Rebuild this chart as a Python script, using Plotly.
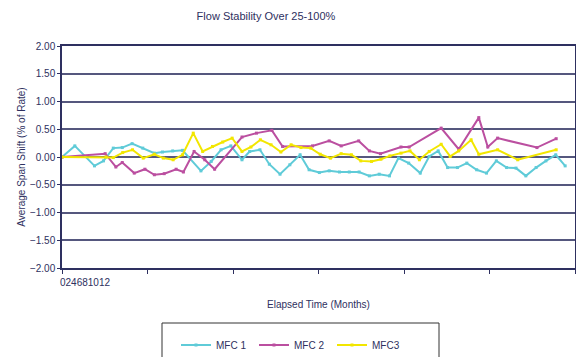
import plotly.graph_objects as go

# ---- data ----
mfc1_months = [0.00, 0.30, 0.76, 0.97, 1.20, 1.41, 1.64, 1.89, 2.16, 2.35, 2.59, 2.82,
               3.25, 3.49, 3.72, 3.95, 4.21, 4.39, 4.63, 4.85, 5.10, 5.33, 5.57, 5.78,
               6.02, 6.25, 6.49, 6.72, 6.95, 7.19, 7.42, 7.66, 7.87, 8.11, 8.38, 8.59,
               8.80, 9.02, 9.25, 9.47, 9.70, 9.93, 10.16, 10.40, 10.62, 10.85, 11.09,
               11.32, 11.55, 11.77]
mfc1_values = [0.00, 0.20, -0.16, -0.07, 0.16, 0.17, 0.24, 0.16, 0.07, 0.09, 0.11, 0.12,
               -0.25, -0.08, 0.13, 0.20, -0.05, 0.10, 0.13, -0.13, -0.31, -0.14, 0.04, -0.23,
               -0.28, -0.25, -0.27, -0.27, -0.27, -0.34, -0.31, -0.34, -0.02, -0.11, -0.29, 0.01,
               0.11, -0.19, -0.19, -0.11, -0.23, -0.29, -0.07, -0.19, -0.20, -0.34, -0.19,
               -0.07, 0.04, -0.16]

mfc2_months = [0.00, 1.01, 1.26, 1.41, 1.69, 1.94, 2.16, 2.39, 2.67, 2.84, 3.09, 3.34,
               3.57, 4.21, 4.55, 4.91, 5.16, 5.86, 6.25, 6.53, 6.94, 7.19, 7.45, 7.93,
               8.12, 8.87, 9.28, 9.75, 9.96, 10.19, 11.11, 11.56]
mfc2_values = [0.00, 0.06, -0.18, -0.10, -0.29, -0.22, -0.32, -0.30, -0.22, -0.27, 0.10, -0.05,
               -0.22, 0.36, 0.43, 0.48, 0.19, 0.20, 0.29, 0.20, 0.29, 0.11, 0.06, 0.18,
               0.18, 0.52, 0.14, 0.71, 0.18, 0.34, 0.17, 0.33]

mfc3_months = [0.00, 1.03, 1.20, 1.42, 1.65, 1.90, 2.16, 2.37, 2.60, 2.82, 3.07, 3.29,
               3.52, 3.76, 3.98, 4.21, 4.42, 4.64, 4.89, 5.12, 5.36, 5.59, 5.82, 6.04,
               6.28, 6.53, 6.77, 6.99, 7.24, 7.46, 7.67, 7.93, 8.14, 8.36, 8.59, 8.87,
               9.08, 9.28, 9.57, 9.75, 10.19, 10.66, 11.56]
mfc3_values = [0.00, 0.00, -0.01, 0.08, 0.13, -0.02, 0.05, -0.02, -0.05, 0.04, 0.43, 0.10,
               0.19, 0.27, 0.34, 0.10, 0.18, 0.31, 0.22, 0.09, 0.22, 0.17, 0.16, 0.05,
               -0.02, 0.06, 0.04, -0.07, -0.08, -0.04, 0.02, 0.07, 0.11, -0.05, 0.10, 0.23,
               0.01, 0.11, 0.31, 0.05, 0.13, -0.05, 0.13]

series_names = ["MFC 1", "MFC 2", "MFC3"]
x_tick_values = [0, 2, 4, 6, 8, 10, 12]
x_tick_labels = ["0", "2", "4", "6", "8", "10", "12"]
y_tick_values = [2.0, 1.5, 1.0, 0.5, 0.0, -0.5, -1.0, -1.5, -2.0]

# ---- styling ----
colors = ["#5fcbd8", "#bb4fa0", "#f2e600"]
text_color = "#2e3060"
grid_color = "#55577e"
font_family = "Liberation Sans, Arial, sans-serif"

fig = go.Figure()
for name, xs, ys, c in zip(series_names,
                           [mfc1_months, mfc2_months, mfc3_months],
                           [mfc1_values, mfc2_values, mfc3_values],
                           colors):
    fig.add_trace(go.Scatter(x=xs, y=ys, name=name, mode="lines+markers",
                             line=dict(color=c, width=2),
                             marker=dict(color=c, size=3, symbol="square")))

fig.update_layout(
    width=576, height=357,
    margin=dict(l=62, r=1, t=46, b=89, autoexpand=False),
    paper_bgcolor="white", plot_bgcolor="white",
    font=dict(family=font_family, size=10, color=text_color),
    title=dict(text="Flow Stability Over 25-100%", x=266/576, xanchor="center",
               y=1 - 16/357, yanchor="middle",
               font=dict(size=11, color=text_color, family=font_family)),
    showlegend=True,
    legend=dict(orientation="h", x=(176 - 62) / 513, xanchor="left",
                y=(268 - 345) / 222, yanchor="middle",
                bgcolor="rgba(0,0,0,0)", borderwidth=0,
                font=dict(size=10, color=text_color, family=font_family),
                entrywidth=33, entrywidthmode="pixels"),
)

fig.update_xaxes(range=[0, 12], tickvals=x_tick_values, showticklabels=False,
                 ticks="outside", ticklen=4, tickcolor=text_color, tickwidth=1,
                 showgrid=False, zeroline=False, automargin=False,
                 showline=True, linecolor=text_color, linewidth=1.5, mirror=True,
                 title=dict(text="Elapsed Time (Months)", standoff=28,
                            font=dict(size=10, color=text_color)))
fig.update_yaxes(range=[-2, 2], tickvals=y_tick_values, tickformat=".2f",
                 ticks="outside", ticklen=3, tickcolor=text_color,
                 showgrid=True, gridcolor=grid_color, gridwidth=1.5, zeroline=False,
                 automargin=False,
                 showline=True, linecolor=text_color, linewidth=1.5, mirror=True,
                 title=dict(text="Average Span Shift (% of Rate)", standoff=2,
                            font=dict(size=10, color=text_color)))

# concatenated x tick labels, as in the reference
fig.add_annotation(text="".join(x_tick_labels), xref="x", yref="paper",
                   x=x_tick_values[0], y=(268 - 282) / 222, xanchor="left", yanchor="middle",
                   xshift=-4, showarrow=False, font=dict(size=10, color=text_color))

# legend frame (extends past bottom of the picture)
fig.add_shape(type="rect", xref="paper", yref="paper",
              x0=(162 - 62) / 513, x1=(439 - 62) / 513,
              y0=(268 - 380) / 222, y1=(268 - 323) / 222,
              line=dict(color="#333333", width=1), fillcolor="rgba(0,0,0,0)")

fig.write_html("out.html", config={"displayModeBar": False},
               post_script="document.body.style.margin='0';document.body.style.padding='0';")
